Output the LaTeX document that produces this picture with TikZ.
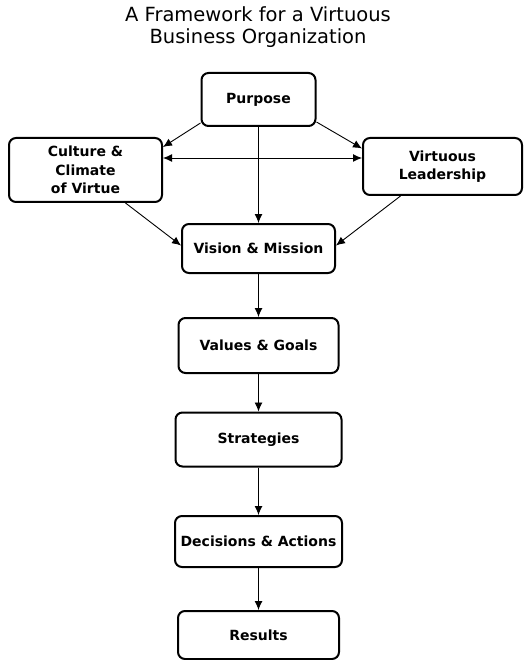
\documentclass[tikz,border=0pt]{standalone}
\usepackage{fontspec}
\setmainfont{DejaVu Sans}
\usetikzlibrary{arrows.meta, calc}

\begin{document}
\begin{tikzpicture}[x=1pt, y=-1pt,
    stage/.style={draw=black, line width=2pt, rounded corners=7pt, fill=white, align=center,
        inner sep=2pt, font=\fontsize{14}{18.5}\selectfont\bfseries},
    flow/.style={draw=black, line width=0.9pt, -{Latex[length=9pt, width=8pt]}},
    both/.style={draw=black, line width=0.9pt, {Latex[length=9pt, width=8pt]}-{Latex[length=9pt, width=8pt]}}]
    \useasboundingbox (0,0) rectangle (523,660);
    \node[align=center, font=\fontsize{19.5}{22}\selectfont] (title) at (258,27) {A Framework for a Virtuous\\Business Organization};
    \node[stage, minimum width=114pt, minimum height=53pt] (purpose) at (258.5,99.5) {Purpose};
    \node[stage, minimum width=153pt, minimum height=64pt] (culture) at (85.5,170) {Culture \&\\Climate\\of Virtue};
    \node[stage, minimum width=159pt, minimum height=57pt] (leader) at (442.5,166.5) {Virtuous\\Leadership};
    \node[stage, minimum width=153pt, minimum height=49pt] (vision) at (258.5,248.5) {Vision \& Mission};
    \node[stage, minimum width=160pt, minimum height=55pt] (values) at (258.5,345.5) {Values \& Goals};
    \node[stage, minimum width=166pt, minimum height=54pt] (strat) at (258.5,439.5) {Strategies};
    \node[stage, minimum width=167pt, minimum height=51pt] (decide) at (258.5,541.5) {Decisions \& Actions};
    \node[stage, minimum width=161pt, minimum height=48pt] (results) at (258.5,635) {Results};
    \draw[flow] ([yshift=4pt]purpose.south west) -- ([yshift=23pt]culture.east);
    \draw[flow] ([yshift=5pt]purpose.south east) -- ([yshift=18pt]leader.west);
    \draw[both] ([yshift=12pt]culture.east) -- ([yshift=12pt]culture.east -| leader.west);
    \draw[flow] (purpose.south) -- (vision.north);
    \draw[flow] ([xshift=40pt]culture.south) -- ([yshift=3pt]vision.west);
    \draw[flow] ([xshift=-42pt]leader.south) -- ([yshift=3pt]vision.east);
    \draw[flow] (vision) -- (values);
    \draw[flow] (values) -- (strat);
    \draw[flow] (strat) -- (decide);
    \draw[flow] (decide) -- (results);
\end{tikzpicture}
\end{document}
